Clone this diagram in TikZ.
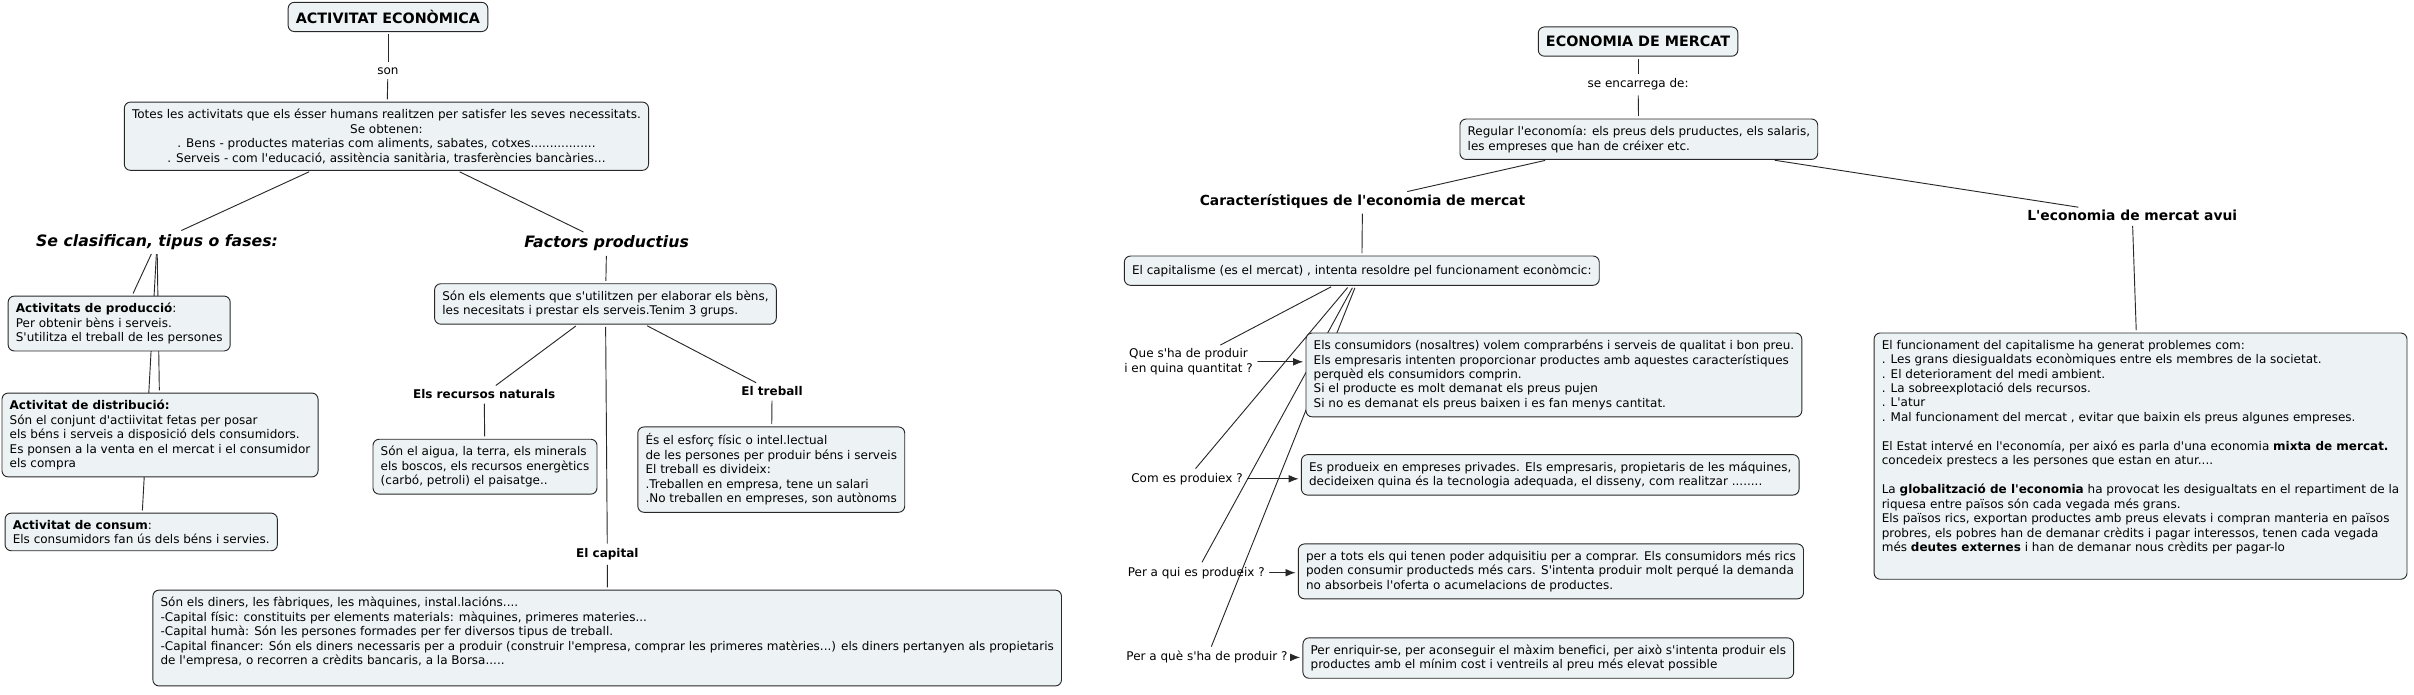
\documentclass[tikz,border=0pt]{standalone}
\usepackage{fontspec}
\newfontfamily\dvsans{DejaVu Sans}
\usetikzlibrary{arrows.meta,backgrounds}
\definecolor{boxfill}{RGB}{237,243,245}
\definecolor{boxline}{RGB}{40,40,40}
\begin{document}
\begin{tikzpicture}[x=1pt, y=-1pt, line join=round, line cap=round,
	concept/.style={draw=boxline, fill=boxfill, rounded corners=4pt, line width=0.6pt, align=left,
		inner xsep=5pt, inner ysep=4.5pt, font=\dvsans\fontsize{7.8}{9.4}\selectfont},
	titlebox/.style={concept, align=center, minimum height=19pt, font=\dvsans\bfseries\fontsize{9.3}{11}\selectfont},
	linktext/.style={inner sep=1.5pt, align=center, font=\dvsans\fontsize{7.8}{9.4}\selectfont},
	heading/.style={inner sep=1.5pt, font=\dvsans\bfseries\fontsize{7.8}{9.4}\selectfont},
	midheading/.style={heading, font=\dvsans\bfseries\fontsize{9}{11}\selectfont},
	bigheading/.style={heading, font=\dvsans\bfseries\itshape\fontsize{10.2}{12}\selectfont},
	conn/.style={draw=boxline, line width=0.6pt, shorten <=1.5pt, shorten >=1.5pt},
	>={Latex[length=6.5pt,width=5pt]}]
	\useasboundingbox (0,0) rectangle (1568,451);
	% ---- ACTIVITAT ECONOMICA
	\node[titlebox] (ae) at (252,11) {ACTIVITAT ECONÒMICA};
	\node[linktext] (son) at (252,46) {son};
	\node[concept, align=center, anchor=north] (totes) at (251,66) {Totes les activitats que els ésser humans realitzen per satisfer les seves necessitats.\\Se obtenen:\\. Bens - productes materias com aliments, sabates, cotxes.................\\. Serveis - com l'educació, assitència sanitària, trasferències bancàries...};
	\node[bigheading] (clasif) at (102,157) {Se clasifican, tipus o fases:};
	\node[bigheading] (factors) at (394,158) {Factors productius};
	% fases
	\node[concept, anchor=north west] (prod) at (5,192) {\textbf{Activitats de producció}:\\Per obtenir bèns i serveis.\\S'utilitza el treball de les persones};
	\node[concept, anchor=north west] (distr) at (1,255) {\textbf{Activitat de distribució:}\\Són el conjunt d'actiivitat fetas per posar\\els béns i serveis a disposició dels consumidors.\\Es ponsen a la venta en el mercat i el consumidor\\els compra};
	\node[concept, anchor=north west] (consum) at (3,333) {\textbf{Activitat de consum}:\\Els consumidors fan ús dels béns i servies.};
	% factors
	\node[concept, anchor=north west] (elem) at (282,184) {Són els elements que s'utilitzen per elaborar els bèns,\\les necesitats i prestar els serveis.Tenim 3 grups.};
	\node[heading] (natur) at (314.5,256) {Els recursos naturals};
	\node[concept, anchor=north west] (recur) at (242,285) {Són el aigua, la terra, els minerals\\els boscos, els recursos energètics\\(carbó, petroli) el paisatge..};
	\node[heading] (treb) at (501.5,254) {El treball};
	\node[concept, anchor=north west] (trebbox) at (414,277) {És el esforç físic o intel.lectual\\de les persones per produir béns i serveis\\El treball es divideix:\\.Treballen en empresa, tene un salari\\.No treballen en empreses, son autònoms};
	\node[heading] (capit) at (394.5,360) {El capital};
	\node[concept, anchor=north west] (capbox) at (99,383) {Són els diners, les fàbriques, les màquines, instal.lacións....\\-Capital físic: constituits per elements materials: màquines, primeres materies...\\-Capital humà: Són les persones formades per fer diversos tipus de treball.\\-Capital financer: Són els diners necessaris per a produir (construir l'empresa, comprar les primeres matèries...) els diners pertanyen als propietaris\\de l'empresa, o recorren a crèdits bancaris, a la Borsa.....\\ \mbox{}};
	% ---- ECONOMIA DE MERCAT
	\node[titlebox] (em) at (1064,27) {ECONOMIA DE MERCAT};
	\node[linktext] (encarr) at (1064,55) {se encarrega de:};
	\node[concept, anchor=north west] (regul) at (948,77) {Regular l'economía: els preus dels pruductes, els salaris,\\les empreses que han de créixer etc.};
	\node[midheading] (caract) at (885,131) {Característiques de l'economia de mercat};
	\node[midheading] (avui) at (1385,140) {L'economia de mercat avui};
	\node[concept, anchor=north west, minimum height=19pt] (capita) at (730,166) {El capitalisme (es el mercat) , intenta resoldre pel funcionament econòmcic:};
	\node[concept, anchor=north west] (avuibox) at (1217,216) {El funcionament del capitalisme ha generat problemes com:\\. Les grans diesigualdats econòmiques entre els membres de la societat.\\. El deteriorament del medi ambient.\\. La sobreexplotació dels recursos.\\. L'atur\\. Mal funcionament del mercat , evitar que baixin els preus algunes empreses.\\[9.4pt]El Estat intervé en l'economía, per aixó es parla d'una economia \textbf{mixta de mercat.}\\concedeix prestecs a les persones que estan en atur....\\[9.4pt]La \textbf{globalització de l'economia} ha provocat les desigualtats en el repartiment de la\\riquesa entre països són cada vegada més grans.\\Els països rics, exportan productes amb preus elevats i compran manteria en països\\probres, els pobres han de demanar crèdits i pagar interessos, tenen cada vegada\\més \textbf{deutes externes} i han de demanar nous crèdits per pagar-lo\\[4pt]\mbox{}};
	% preguntes
	\node[linktext] (q1) at (772,235) {Que s'ha de produir\\i en quina quantitat ?};
	\node[concept, anchor=north west] (cons) at (848,216) {Els consumidors (nosaltres) volem comprarbéns i serveis de qualitat i bon preu.\\Els empresaris intenten proporcionar productes amb aquestes característiques\\perquèd els consumidors comprin.\\Si el producte es molt demanat els preus pujen\\Si no es demanat els preus baixen i es fan menys cantitat.};
	\node[linktext] (q2) at (771,311) {Com es produiex ?};
	\node[concept, anchor=north west] (prodx) at (845,295) {Es produeix en empreses privades. Els empresaris, propietaris de les máquines,\\decideixen quina és la tecnologia adequada, el disseny, com realitzar ........};
	\node[linktext] (q3) at (777,372) {Per a qui es produeix ?};
	\node[concept, anchor=north west] (tots) at (843,353) {per a tots els qui tenen poder adquisitiu per a comprar. Els consumidors més rics\\poden consumir producteds més cars. S'intenta produir molt perqué la demanda\\no absorbeis l'oferta o acumelacions de productes.};
	\node[linktext] (q4) at (784,427) {Per a què s'ha de produir ?};
	\node[concept, anchor=north west] (enriq) at (846,414) {Per enriquir-se, per aconseguir el màxim benefici, per això s'intenta produir els\\productes amb el mínim cost i ventreils al preu més elevat possible};
	\begin{scope}[on background layer]
		\fill[white] (0,0) rectangle (1568,451);
		\draw[conn] (ae) -- (son);
		\draw[conn] (son) -- (totes);
		\draw[conn] (totes) -- (clasif);
		\draw[conn] (totes) -- (factors);
		\draw[conn] (clasif) -- (prod);
		\draw[conn] (clasif) -- (distr);
		\draw[conn] (clasif) -- (consum);
		\draw[conn] (factors) -- (elem);
		\draw[conn] (elem) -- (natur);
		\draw[conn] (natur) -- (recur);
		\draw[conn] (elem) -- (treb);
		\draw[conn] (treb) -- (trebbox);
		\draw[conn] (elem) -- (capit);
		\draw[conn] (capit) -- (capbox);
		\draw[conn] (em) -- (encarr);
		\draw[conn] (encarr) -- (regul);
		\draw[conn] (regul) -- (caract);
		\draw[conn] (regul) -- (avui);
		\draw[conn] (caract) -- (capita);
		\draw[conn] (avui) -- (avuibox);
		\draw[conn] (capita) -- (q1);
		\draw[conn] (capita) -- (q2);
		\draw[conn] (capita) -- (q3);
		\draw[conn] (capita) -- (q4);
	\end{scope}
	\draw[conn,->] (q1.east) -- (q1.east -| cons.west);
	\draw[conn,->] (q2.east) -- (q2.east -| prodx.west);
	\draw[conn,->] (q3.east) -- (q3.east -| tots.west);
	\draw[conn,->] (q4.east) -- (q4.east -| enriq.west);
\end{tikzpicture}
\end{document}
